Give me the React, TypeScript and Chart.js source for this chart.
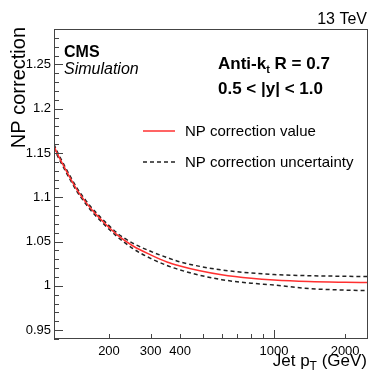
import React, { useEffect, useRef } from "react";
import { Chart, registerables } from "chart.js";

Chart.register(...registerables);

const ptValues = [117, 120, 130, 146, 160, 173, 185, 200, 218, 253, 300, 352, 400, 485, 600, 800, 1000, 1400, 2000, 2500];
const npValue = [1.158, 1.151, 1.133, 1.109, 1.094, 1.083, 1.075, 1.066, 1.057, 1.045, 1.035, 1.027, 1.0225, 1.017, 1.0125, 1.0085, 1.0065, 1.0048, 1.004, 1.0037];
const npUpper = [1.160, 1.153, 1.135, 1.111, 1.096, 1.085, 1.077, 1.068, 1.059, 1.048, 1.039, 1.032, 1.027, 1.022, 1.018, 1.0145, 1.0128, 1.0115, 1.0108, 1.0105];
const npLower = [1.156, 1.149, 1.131, 1.107, 1.092, 1.081, 1.073, 1.064, 1.055, 1.042, 1.031, 1.023, 1.018, 1.012, 1.007, 1.003, 1.001, 0.997, 0.9952, 0.9947];

const yTickLabels = [0.95, 1.0, 1.05, 1.1, 1.15, 1.2, 1.25];
const yMinorTicks = [0.94, 0.95, 0.96, 0.97, 0.98, 0.99, 1.0, 1.01, 1.02, 1.03, 1.04, 1.05, 1.06, 1.07, 1.08, 1.09, 1.1, 1.11, 1.12, 1.13, 1.14, 1.15, 1.16, 1.17, 1.18, 1.19, 1.2, 1.21, 1.22, 1.23, 1.24, 1.25, 1.26, 1.27, 1.28, 1.29];
const xTicks = [200, 300, 400, 500, 600, 700, 800, 900, 1000, 2000];
const xTickLabels = [200, 300, 400, 1000, 2000];
const xMajorTicks = [1000];

const FONT = "'Liberation Sans', Arial, Helvetica, sans-serif";

const decorPlugin = {
  id: "decor",
  afterDraw(chart: any) {
    const ctx = chart.ctx;
    const a = chart.chartArea;
    const xs = chart.scales.x;
    const ys = chart.scales.y;
    ctx.save();
    // frame
    ctx.strokeStyle = "#444";
    ctx.lineWidth = 1;
    ctx.strokeRect(a.left + 0.5, a.top + 0.5, a.right - a.left - 1, a.bottom - a.top - 1);
    // ticks
    ctx.beginPath();
    for (const v of yMinorTicks) {
      const y = Math.round(ys.getPixelForValue(v)) + 0.5;
      const major = yTickLabels.some((m) => Math.abs(m - v) < 1e-6);
      const len = major ? 9 : 5;
      ctx.moveTo(a.left, y);
      ctx.lineTo(a.left + len, y);
    }
    for (const v of xTicks) {
      const x = Math.round(xs.getPixelForValue(v)) + 0.5;
      const len = xMajorTicks.includes(v) ? 9 : 5;
      ctx.moveTo(x, a.bottom);
      ctx.lineTo(x, a.bottom - len);
    }
    ctx.stroke();

    ctx.fillStyle = "#000";
    // y title
    ctx.save();
    ctx.translate(25, 27);
    ctx.rotate(-Math.PI / 2);
    ctx.font = `20px ${FONT}`;
    ctx.textAlign = "right";
    ctx.textBaseline = "alphabetic";
    ctx.fillText("NP correction", 0, 0);
    ctx.restore();

    // x title: Jet p_T (GeV)
    ctx.textBaseline = "alphabetic";
    ctx.textAlign = "left";
    const big = `17px ${FONT}`;
    const small = `12px ${FONT}`;
    ctx.font = big;
    const w1 = ctx.measureText("Jet p").width;
    const w3 = ctx.measureText(" (GeV)").width;
    ctx.font = small;
    const w2 = ctx.measureText("T").width;
    const right = 367;
    const base = 366;
    const x0 = right - w1 - w2 - w3;
    ctx.font = big;
    ctx.fillText("Jet p", x0, base);
    ctx.font = small;
    ctx.fillText("T", x0 + w1, base + 4);
    ctx.font = big;
    ctx.fillText(" (GeV)", x0 + w1 + w2, base);

    // 13 TeV
    ctx.font = `16px ${FONT}`;
    ctx.textAlign = "right";
    ctx.fillText("13 TeV", 367, 24);

    // CMS Simulation
    ctx.textAlign = "left";
    ctx.font = `bold 16px ${FONT}`;
    ctx.fillText("CMS", 64, 57);
    ctx.font = `italic 16px ${FONT}`;
    ctx.fillText("Simulation", 64, 74);

    // Anti-kt
    const b17 = `bold 17px ${FONT}`;
    const b12 = `bold 11px ${FONT}`;
    ctx.font = b17;
    let ax = 218;
    ctx.fillText("Anti-k", ax, 69);
    ax += ctx.measureText("Anti-k").width;
    ctx.font = b12;
    ctx.fillText("t", ax, 73);
    ax += ctx.measureText("t").width;
    ctx.font = b17;
    ctx.fillText(" R = 0.7", ax, 69);
    ctx.fillText("0.5 < |y| < 1.0", 218, 94);

    // legend
    ctx.lineWidth = 1.5;
    ctx.strokeStyle = "#ff3030";
    ctx.beginPath();
    ctx.moveTo(143, 131);
    ctx.lineTo(175, 131);
    ctx.stroke();
    ctx.strokeStyle = "#222";
    ctx.setLineDash([4, 3]);
    ctx.beginPath();
    ctx.moveTo(143, 162);
    ctx.lineTo(175, 162);
    ctx.stroke();
    ctx.setLineDash([]);
    ctx.font = `15px ${FONT}`;
    ctx.fillText("NP correction value", 185, 136);
    ctx.fillText("NP correction uncertainty", 185, 167);
    ctx.restore();
  },
};

export default function App() {
  const ref = useRef<HTMLCanvasElement | null>(null);
  useEffect(() => {
    if (!ref.current) return;
    const mk = (vals: number[]) => ptValues.map((x, i) => ({ x, y: vals[i] }));
    const chart = new Chart(ref.current, {
      type: "line",
      data: {
        datasets: [
          {
            label: "NP correction value",
            data: mk(npValue),
            borderColor: "#ff3030",
            borderWidth: 1.5,
            pointRadius: 0,
            cubicInterpolationMode: "monotone",
          },
          {
            label: "NP correction uncertainty",
            data: mk(npUpper),
            borderColor: "#222",
            borderWidth: 1.5,
            borderDash: [4, 3],
            pointRadius: 0,
            cubicInterpolationMode: "monotone",
          },
          {
            label: "NP correction uncertainty (low)",
            data: mk(npLower),
            borderColor: "#222",
            borderWidth: 1.5,
            borderDash: [4, 3],
            pointRadius: 0,
            cubicInterpolationMode: "monotone",
          },
        ],
      },
      options: {
        responsive: false,
        animation: false,
        layout: { padding: { top: 29, right: 1, left: 0, bottom: 0 } },
        plugins: { legend: { display: false }, tooltip: { enabled: false } },
        scales: {
          x: {
            type: "logarithmic",
            min: 117,
            max: 2500,
            grid: { display: false, drawTicks: false },
            border: { display: false },
            afterBuildTicks: (s: any) => {
              s.ticks = xTicks.map((v) => ({ value: v }));
            },
            afterFit: (s: any) => {
              s.height = 35;
            },
            ticks: {
              autoSkip: false,
              maxRotation: 0,
              padding: 5,
              color: "#000",
              font: { family: FONT, size: 13 },
              callback: (v: any) => (xTickLabels.includes(Number(v)) ? String(v) : ""),
            },
          },
          y: {
            type: "linear",
            min: 0.94,
            max: 1.29,
            grid: { display: false, drawTicks: false },
            border: { display: false },
            afterBuildTicks: (s: any) => {
              s.ticks = yTickLabels.map((v) => ({ value: v }));
            },
            afterFit: (s: any) => {
              s.width = 54;
            },
            ticks: {
              autoSkip: false,
              padding: 3,
              color: "#000",
              font: { family: FONT, size: 13 },
              callback: (v: any) => String(+Number(v).toFixed(2)),
            },
          },
        },
      },
      plugins: [decorPlugin],
    } as any);
    return () => chart.destroy();
  }, []);
  return (
    <div style={{ position: "absolute", left: 0, top: 0, width: 369, height: 374, background: "#fff" }}>
      <canvas ref={ref} width={369} height={374} />
    </div>
  );
}
